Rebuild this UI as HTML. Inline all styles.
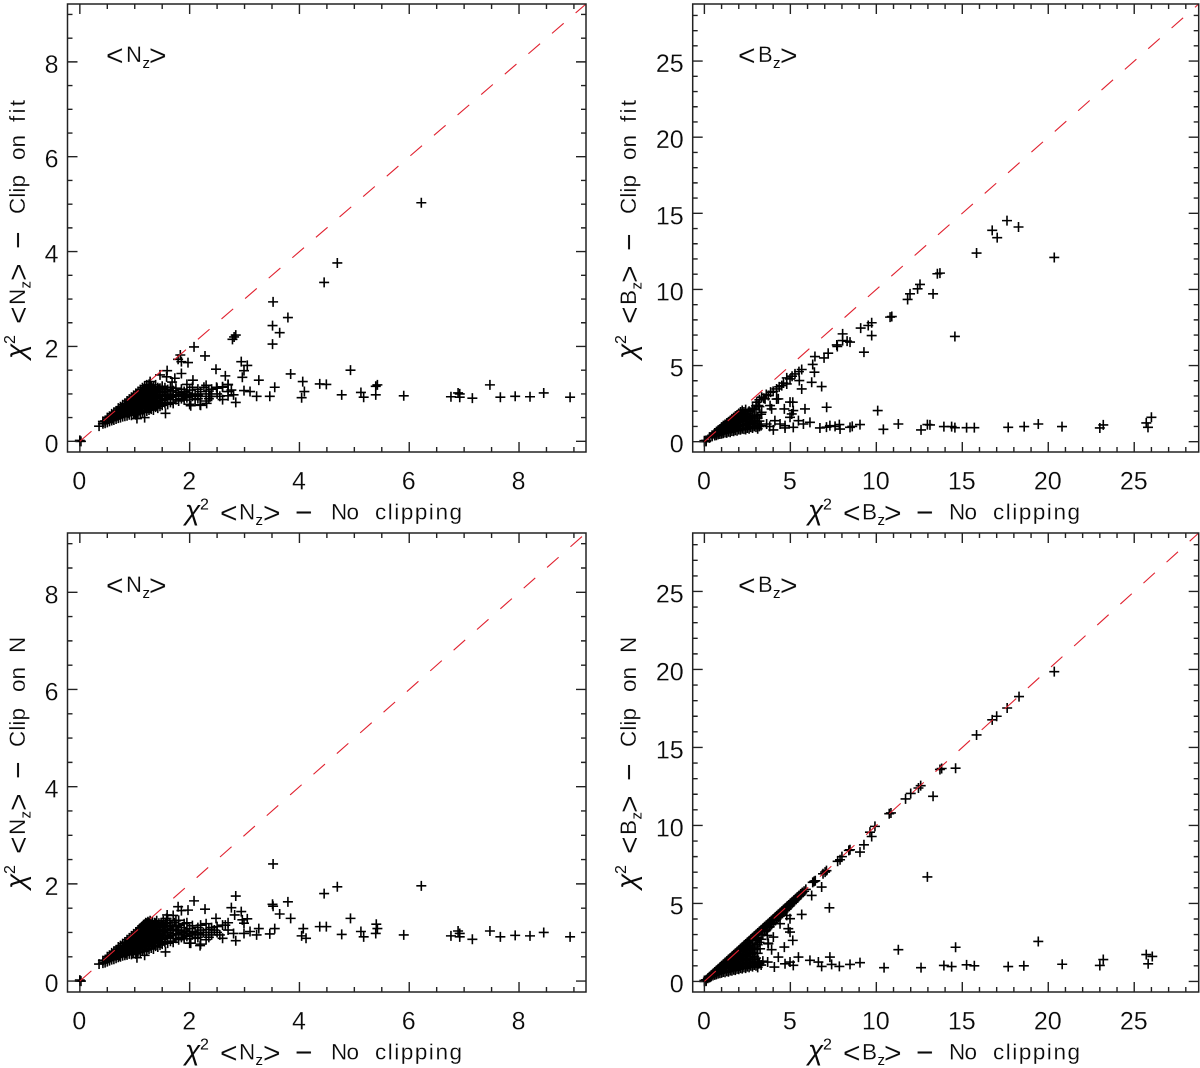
<!DOCTYPE html>
<html lang="en">
<head>
<meta charset="utf-8">
<title>Chi-squared clipping comparison</title>
<style>
html,body{margin:0;padding:0;background:#fff;}
svg{display:block;}
text{font-family:"Liberation Sans",sans-serif;fill:#0a0a0a;stroke:#fff;stroke-width:.2px;}
.tk{font-size:25px;}
.t{font-size:22.5px;}
.br{font-size:30px;}
.chi{font-size:28px;font-style:italic;stroke-width:0;}
.sup{font-size:16px;stroke-width:0;}
.sub{font-size:15px;stroke-width:0;}
.pl{font-size:22px;}
</style>
</head>
<body>
<svg id="chart" xmlns="http://www.w3.org/2000/svg" width="1200" height="1068" viewBox="0 0 1200 1068">
<rect width="1200" height="1068" fill="#fff"/>

<g id="plots"></g>

<!-- panel labels -->
<g transform="translate(108,62)"><text class="br" x="-2" y="3.7">&lt;</text><text class="pl" x="18">N</text><text class="sub" x="34.5" y="6">z</text><text class="br" x="41" y="3.7">&gt;</text></g>
<g transform="translate(740,62)"><text class="br" x="-2" y="3.7">&lt;</text><text class="pl" x="18">B</text><text class="sub" x="33" y="6">z</text><text class="br" x="40" y="3.7">&gt;</text></g>
<g transform="translate(108,592)"><text class="br" x="-2" y="3.7">&lt;</text><text class="pl" x="18">N</text><text class="sub" x="34.5" y="6">z</text><text class="br" x="41" y="3.7">&gt;</text></g>
<g transform="translate(740,592)"><text class="br" x="-2" y="3.7">&lt;</text><text class="pl" x="18">B</text><text class="sub" x="33" y="6">z</text><text class="br" x="40" y="3.7">&gt;</text></g>

<!-- x titles -->
<g transform="translate(185,519.5)"><text class="chi">χ</text><text class="sup" x="15" y="-10">2</text><text class="br" x="35" y="3.7">&lt;</text><text class="t" x="54">N</text><text class="sub" x="70.5" y="5.5">z</text><text class="br" x="78" y="3.7">&gt;</text><text class="br" x="110" y="3">−</text><text class="t" x="146" textLength="28">No</text><text class="t" x="190" textLength="87">clipping</text></g>
<g transform="translate(808,519.5)"><text class="chi">χ</text><text class="sup" x="15" y="-10">2</text><text class="br" x="35" y="3.7">&lt;</text><text class="t" x="54">B</text><text class="sub" x="69.5" y="5.5">z</text><text class="br" x="76" y="3.7">&gt;</text><text class="br" x="108" y="3">−</text><text class="t" x="141" textLength="28">No</text><text class="t" x="185" textLength="87">clipping</text></g>
<g transform="translate(185,1059.5)"><text class="chi">χ</text><text class="sup" x="15" y="-10">2</text><text class="br" x="35" y="3.7">&lt;</text><text class="t" x="54">N</text><text class="sub" x="70.5" y="5.5">z</text><text class="br" x="78" y="3.7">&gt;</text><text class="br" x="110" y="3">−</text><text class="t" x="146" textLength="28">No</text><text class="t" x="190" textLength="87">clipping</text></g>
<g transform="translate(808,1059.5)"><text class="chi">χ</text><text class="sup" x="15" y="-10">2</text><text class="br" x="35" y="3.7">&lt;</text><text class="t" x="54">B</text><text class="sub" x="69.5" y="5.5">z</text><text class="br" x="76" y="3.7">&gt;</text><text class="br" x="108" y="3">−</text><text class="t" x="141" textLength="28">No</text><text class="t" x="185" textLength="87">clipping</text></g>

<!-- y titles -->
<g transform="translate(25,359) rotate(-90)"><text class="chi">χ</text><text class="sup" x="15" y="-10">2</text><text class="br" x="35" y="3.7">&lt;</text><text class="t" x="54">N</text><text class="sub" x="70.5" y="5.5">z</text><text class="br" x="78" y="3.7">&gt;</text><text class="br" x="110" y="3">−</text><text class="t" x="145" textLength="39">Clip</text><text class="t" x="199" textLength="25">on</text><text class="t" x="237" textLength="22">fit</text></g>
<g transform="translate(636,359) rotate(-90)"><text class="chi">χ</text><text class="sup" x="15" y="-10">2</text><text class="br" x="35" y="3.7">&lt;</text><text class="t" x="54">B</text><text class="sub" x="69.5" y="5.5">z</text><text class="br" x="76" y="3.7">&gt;</text><text class="br" x="108" y="3">−</text><text class="t" x="145" textLength="39">Clip</text><text class="t" x="199" textLength="25">on</text><text class="t" x="237" textLength="22">fit</text></g>
<g transform="translate(25,889) rotate(-90)"><text class="chi">χ</text><text class="sup" x="15" y="-10">2</text><text class="br" x="35" y="3.7">&lt;</text><text class="t" x="54">N</text><text class="sub" x="70.5" y="5.5">z</text><text class="br" x="78" y="3.7">&gt;</text><text class="br" x="110" y="3">−</text><text class="t" x="142" textLength="39">Clip</text><text class="t" x="197" textLength="25">on</text><text class="t" x="236">N</text></g>
<g transform="translate(636,889) rotate(-90)"><text class="chi">χ</text><text class="sup" x="15" y="-10">2</text><text class="br" x="35" y="3.7">&lt;</text><text class="t" x="54">B</text><text class="sub" x="69.5" y="5.5">z</text><text class="br" x="76" y="3.7">&gt;</text><text class="br" x="108" y="3">−</text><text class="t" x="142" textLength="39">Clip</text><text class="t" x="197" textLength="25">on</text><text class="t" x="236">N</text></g>
</svg>

<script>
// ---- tick values ----
const nzMajorTicks=[0,2,4,6,8];
const nzMinorStep=0.5;
const bzMajorTicks=[0,5,10,15,20,25];
const bzMinorStep=1;
const nzRange=[-0.225,9.22];
const bzRange=[-0.68,28.75];

// ---- data: dense clusters written as [x,[y,y,...]] ----
const nzCoreCols=[[0,[0,0.02]],[0.02,[0]],[0.42,[0.37,0.42]],[0.46,[0.38,0.43]],[0.5,[0.4,0.46,0.5]],[0.54,[0.42,0.47,0.53]],[0.58,[0.44,0.49,0.54,0.58]],[0.62,[0.45,0.51,0.56,0.61]],[0.66,[0.47,0.52,0.58,0.64]],[0.7,[0.49,0.55,0.6,0.66,0.7]],[0.74,[0.5,0.56,0.62,0.68,0.73]],[0.78,[0.52,0.58,0.64,0.7,0.77]],[0.82,[0.53,0.6,0.66,0.72,0.8]],[0.86,[0.54,0.61,0.68,0.74,0.8,0.85]],[0.9,[0.56,0.63,0.69,0.76,0.82,0.89]],[0.94,[0.55,0.62,0.7,0.77,0.84,0.93]],[0.98,[0.57,0.65,0.72,0.79,0.86,0.92,0.97]],[1.02,[0.56,0.63,0.7,0.78,0.85,0.93,1.01]],[1.06,[0.6,0.67,0.74,0.81,0.88,0.95,1.05]],[1.1,[0.58,0.65,0.72,0.8,0.87,0.94,1.02,1.09]],[1.14,[0.62,0.69,0.76,0.83,0.9,0.97,1.05,1.13]],[1.18,[0.61,0.68,0.75,0.82,0.89,0.96,1.04,1.11,1.17]],[1.22,[0.64,0.71,0.78,0.85,0.92,0.99,1.06,1.14,1.19]],[1.26,[0.66,0.73,0.8,0.87,0.94,1.01,1.08,1.16,1.2]],[1.3,[0.68,0.75,0.82,0.89,0.96,1.03,1.1,1.17]],[1.34,[0.66,0.74,0.81,0.88,0.95,1.02,1.09,1.15]],[1.38,[0.72,0.79,0.86,0.93,1,1.07,1.14,1.19]],[1.42,[0.7,0.78,0.85,0.92,0.99,1.06,1.13]],[1.46,[0.74,0.82,0.9,0.98,1.05,1.12]],[1.5,[0.76,0.86,0.94,1.03,1.1,1.16]],[1.55,[0.8,0.88,0.97,1.06,1.13]],[1.6,[0.78,0.9,1,1.09]],[1.65,[0.82,0.93,1.04,1.14]],[1.7,[0.8,0.95,1.07]],[1.75,[0.88,0.98,1.12]],[1.8,[0.85,0.97,1.03]],[1.85,[0.9,1,1.1]],[1.9,[0.87,0.95,1.05]],[1.95,[0.92,1.02,1.2]],[2,[0.78,0.98,1.08]],[2.05,[0.95,1.14]],[2.1,[0.88,1]],[2.15,[0.9,1.1,0.97]],[2.2,[0.76,0.95,1.05]],[2.3,[0.85,1,1.18]],[2.35,[0.9,1.06]],[2.4,[0.95,1.1]],[2.5,[1,1.12]],[2.55,[0.95]],[2.6,[0.88,1.15]],[2.7,[1.05,1.2]],[2.8,[0.98]]];

const nzFitExtra=[[0.6,0.48],[0.64,0.54],[0.68,0.6],[0.72,0.58],[0.76,0.65],[0.8,0.61],[0.84,0.67],[0.84,0.76],[0.88,0.6],[0.88,0.72],[0.92,0.66],[0.92,0.8],[0.96,0.73],[0.96,0.88],[1,0.6],[1,0.75],[1,0.9],[1.04,0.66],[1.04,0.83],[1.04,0.98],[1.08,0.76],[1.08,0.91],[1.12,0.69],[1.12,0.84],[1.12,1],[1.16,0.79],[1.16,0.93],[1.16,1.08],[1.2,0.72],[1.2,0.87],[1.2,1.02],[1.24,0.8],[1.24,0.96],[1.24,1.1],[1.28,0.7],[1.28,0.9],[1.28,1.05],[1.32,0.78],[1.32,0.98],[1.32,1.12],[1.36,0.84],[1.36,1.04],[1.4,0.76],[1.4,0.95]];

const nzFitOutliers=[[0.35,0.32],[1.04,0.48],[1.18,0.5],[1.56,0.59],[1.28,1.26],[1.46,1.4],[1.59,1.49],[1.58,1.36],[1.73,1.33],[1.85,1.43],[2.06,1.29],[1.68,1.25],[3.52,2.94],[3.79,2.61],[3.51,2.44],[3.64,2.29],[3.51,2.05],[2.84,2.24],[2.78,2.15],[2.81,2.2],[2.08,1.99],[2.28,1.8],[1.83,1.82],[1.79,1.73],[1.85,1.68],[1.97,1.66],[2.94,1.68],[3.05,1.6],[2.48,1.52],[2.99,1.49],[2.65,1.38],[2.96,1.35],[3.26,1.29],[3.84,1.42],[4.06,1.26],[3.55,1.14],[4.37,1.21],[4.49,1.2],[4.09,1.05],[4.04,0.92],[3.46,0.95],[3.22,0.95],[3.1,1.05],[2.99,1.07],[2.84,0.82],[2.7,0.96],[2.76,1.08],[2.7,1.19],[2.6,1.14],[2.49,1.14],[2.37,0.95],[2.31,0.8],[2.19,0.77],[2.02,0.75],[2.26,1.14],[4.45,3.35],[4.69,3.76],[6.22,5.03],[4.93,1.5],[5.42,1.19],[5.39,1.16],[4.77,0.98],[5.12,1.03],[5.17,0.93],[5.39,0.98],[5.9,0.96],[6.76,0.94],[6.89,1.02],[6.92,1],[6.92,0.93],[7.15,0.91],[7.47,1.19],[7.66,0.93],[7.93,0.95],[8.2,0.94],[8.45,1.02],[8.93,0.93]];

const nzClipExtra=[[0.72,0.52],[0.76,0.6],[0.8,0.67],[0.84,0.57],[0.88,0.65],[0.92,0.72],[0.96,0.6],[0.96,0.8],[1,0.68],[1,0.9],[1.04,0.76],[1.04,0.98],[1.08,0.7],[1.08,0.85],[1.12,0.78],[1.12,0.92],[1.12,1.1],[1.16,0.86],[1.16,1],[1.16,1.16],[1.2,0.73],[1.2,0.94],[1.2,1.2],[1.24,0.83],[1.24,1.1],[1.24,1.22],[1.28,0.98],[1.28,1.24],[1.32,0.79],[1.32,1.13],[1.32,1.22],[1.36,0.9],[1.36,1.2],[1.4,1.04],[1.4,1.24],[1.44,0.96],[1.44,1.19],[1.48,1.2],[1.52,1.02],[1.52,1.24],[1.56,1.18],[1.6,1.25],[1.64,1.2],[1.68,1.13],[1.72,1.2],[1.76,1.05],[1.8,1.15],[1.8,1.25],[1.9,1.18],[2.05,1.02],[2.2,1.15],[2.25,1],[2.4,1],[2.45,1.05],[2.65,1.15]];

const nzClipOutliers=[[0.35,0.35],[1.04,0.48],[1.18,0.53],[1.56,0.6],[3.52,2.41],[4.69,1.94],[4.45,1.8],[2.08,1.65],[1.79,1.53],[1.85,1.45],[1.97,1.46],[2.28,1.48],[2.84,1.75],[2.76,1.51],[2.82,1.36],[2.94,1.43],[3.51,1.58],[3.52,1.54],[3.79,1.63],[3.64,1.38],[3.84,1.29],[2.48,1.29],[3.05,1.28],[2.96,1.26],[2.99,1.19],[3.26,1.08],[3.55,1.08],[4.07,1.08],[4.37,1.12],[4.49,1.12],[4.04,0.93],[4.12,0.88],[3.46,0.97],[3.22,0.95],[3.1,1.02],[2.99,0.98],[2.84,0.83],[2.19,0.73],[2.02,0.78],[1.59,1.36],[1.58,1.29],[1.75,1.24],[1.7,1.35],[6.22,1.96],[4.93,1.29],[5.4,1.17],[5.42,1.08],[5.39,0.98],[4.77,0.96],[5.12,1.02],[5.17,0.91],[5.9,0.95],[6.76,0.93],[6.89,1.03],[6.92,0.98],[6.92,0.91],[7.15,0.86],[7.47,1.03],[7.66,0.91],[7.93,0.94],[8.2,0.93],[8.45,1],[8.93,0.91]];

const bzFitCols=[[0.1,[0.08,0.02]],[0,[0,0.06]],[0.3,[0.25,0.3]],[0.45,[0.35,0.42]],[0.6,[0.4,0.5,0.57]],[0.7,[0.42,0.55,0.66]],[0.8,[0.48,0.6,0.75]],[0.9,[0.5,0.65,0.82]],[1,[0.52,0.68,0.85,0.95]],[1.1,[0.55,0.75,0.9,1.05]],[1.2,[0.6,0.78,0.95,1.13]],[1.3,[0.58,0.8,1,1.22]],[1.4,[0.65,0.85,1.05,1.3]],[1.5,[0.62,0.9,1.12,1.38]],[1.6,[0.7,0.88,1.1,1.3,1.5]],[1.7,[0.68,0.92,1.15,1.38,1.58]],[1.8,[0.75,0.95,1.2,1.42,1.68]],[1.9,[0.72,1,1.25,1.5,1.75]],[2,[0.8,1,1.3,1.55,1.85]],[2.1,[0.78,1.05,1.32,1.6,1.95]],[2.2,[0.85,1.1,1.4,1.7,2.05]],[2.3,[0.82,1.05,1.35,1.65,1.95]],[2.4,[0.8,1.1,1.45,1.8,2.1]],[2.5,[0.9,1.2,1.5,1.85]],[2.6,[0.85,1.15,1.6,2]],[2.7,[0.95,1.25,1.75]],[2.8,[0.9,1.3,1.65,2.2]],[2.9,[1,1.4,2.1]],[3,[0.95,1.2,1.7,2.35]],[3.1,[0.85,1.1,1.55]],[3.2,[1,1.35,2.3]],[3.3,[1.05,1.8]]];

const bzFitOutliers=[[3.04,2.59],[3.33,2.92],[3.2,2.75],[3.45,2.85],[3.6,3.1],[3.72,3.03],[3.85,3.25],[4,3.3],[4.2,3.46],[4.35,3.6],[4.5,3.68],[4.6,3.85],[4.79,3.79],[4.2,2.8],[3.82,2.37],[3.53,2.81],[3.14,2.37],[3.33,1.93],[3.62,1.16],[3.8,1.0],[4.1,1.38],[4.01,0.77],[4.4,1.16],[4.69,1.05],[4.69,0.9],[5.17,0.94],[5.17,2.04],[4.98,1.6],[5.14,2.59],[4.98,2.6],[4.65,2.15],[3.91,2.15],[4.3,2.81],[5.08,1.82],[5.47,1.38],[5.76,1.16],[6.14,1.27],[6.72,0.9],[7.3,1.05],[7.1,0.95],[7.6,1.0],[7.85,1.12],[7.89,0.83],[8.47,0.94],[8.6,1.0],[9.05,1.12],[10.08,2.04],[10.41,0.81],[11.28,1.16],[12.6,0.77],[12.97,1.12],[5.85,2.15],[7.11,2.26],[5.66,3.46],[6.82,3.62],[6.24,3.9],[6.4,4.56],[5.52,4.01],[5.27,4.45],[5.66,4.74],[5.5,4.6],[5.1,4.3],[4.98,4.12],[4.79,4.19],[6.3,5.07],[6.43,5.59],[6.96,5.5],[7.2,5.81],[7.73,6.25],[7.7,6.35],[8.04,7.08],[8.04,6.64],[8.47,6.54],[8.3,6.6],[9.28,5.88],[9.73,6.97],[9.09,7.46],[9.53,7.63],[9.73,7.81],[10.8,8.18],[10.9,8.22],[11.82,9.34],[11.96,9.71],[12.4,10.04],[12.54,10.33],[13.3,9.71],[13.55,11.03],[13.7,11.07],[15.83,12.39],[16.74,13.88],[17.03,13.4],[17.6,14.52],[18.27,14.1],[20.35,12.1],[14.57,6.91],[13.12,1.1],[13.93,0.99],[14.38,0.99],[14.57,0.92],[15.25,0.92],[15.7,0.92],[17.67,0.94],[18.6,0.99],[19.42,1.16],[20.8,0.99],[23,0.9],[23.2,1.1],[25.7,1.23],[25.8,0.94],[26,1.6]];

const bzClipCols=[[0,[0,0.06]],[0.1,[0.1,0.02]],[0.2,[0.2]],[0.3,[0.25,0.3]],[0.4,[0.32,0.4]],[0.5,[0.38,0.5]],[0.6,[0.42,0.52,0.6]],[0.7,[0.45,0.58,0.7]],[0.8,[0.5,0.65,0.8]],[0.9,[0.52,0.7,0.9]],[1,[0.55,0.78,1]],[1.1,[0.6,0.85,1.1,0.98]],[1.2,[0.58,0.9,1.05,1.2]],[1.3,[0.65,0.95,1.15,1.3]],[1.4,[0.62,0.85,1.1,1.25,1.4]],[1.5,[0.7,1,1.2,1.35,1.5]],[1.6,[0.68,0.9,1.15,1.4,1.6]],[1.7,[0.75,1,1.25,1.5,1.7]],[1.8,[0.72,0.95,1.2,1.45,1.65,1.8]],[1.9,[0.8,1.05,1.3,1.55,1.9]],[2,[0.78,1,1.25,1.5,1.75,2]],[2.1,[0.85,1.1,1.4,1.7,1.95,2.1]],[2.2,[0.82,1.05,1.3,1.6,1.9,2.2]],[2.3,[0.9,1.15,1.45,1.75,2.05,2.3]],[2.4,[0.85,1.1,1.35,1.65,2,2.4]],[2.5,[0.95,1.2,1.5,1.85,2.2,2.5]],[2.6,[0.9,1.15,1.6,1.95,2.3,2.6]],[2.7,[1,1.3,1.75,2.1,2.7]],[2.8,[0.95,1.4,1.85,2.4,2.8]],[2.9,[1.05,1.25,1.6,2.2,2.9]],[3,[1,1.5,2.05,2.6,3]],[3.1,[0.9,1.2,1.8,2.35,2.8,3.1]],[3.2,[1.15,2.5,3.2]],[3.3,[1.05,2.7,3.3]],[3.4,[1.3,3,3.4]],[3.5,[3.2,3.5]],[3.6,[3.3,3.6]],[3.7,[2.45,3.45,3.7]],[3.8,[3.5,3.8]],[3.9,[3.65,3.9]],[4,[3.75,4]],[4.1,[3.9,4.1]],[4.2,[4,4.2]],[4.3,[4.1,4.3]],[4.4,[4.2,4.4]],[4.5,[4.35,4.5]],[4.6,[4.45,4.6]],[4.7,[4.55,4.7]],[4.8,[4.65,4.8]],[4.9,[4.8,4.9]],[5,[4.9,5]],[5.1,[5,5.1]],[5.2,[5.1,5.2]],[5.3,[5.25,5.3]],[5.4,[5.35,5.4]],[5.5,[5.45,5.5]],[5.6,[5.55,5.6]],[5.7,[5.7]],[5.8,[5.78]],[5.9,[5.9]]];

const bzClipOutliers=[[4.98,4.02],[4.88,3.38],[4.98,3.16],[5.14,2.63],[4.65,2.2],[3.91,2.03],[4.01,2.84],[3.66,2.95],[4.4,3.7],[4.79,4.23],[3.72,2.41],[3.24,2.09],[5.66,4.29],[6.24,5.51],[6.82,6.05],[6.38,6.41],[6.3,6.35],[6.45,6.45],[6.9,6.9],[7.02,7.01],[7.1,7.1],[7.27,4.72],[7.75,7.7],[7.89,7.8],[8.0,8.0],[8.4,8.4],[8.47,8.44],[9.05,8.29],[9.28,8.76],[9.63,9.57],[9.73,9.29],[9.92,9.94],[10.75,10.75],[10.85,10.8],[11.7,11.7],[12,12.05],[12.45,12.4],[12.58,12.55],[13.3,11.87],[13.7,13.59],[13.8,13.65],[14.61,13.67],[15.83,15.8],[16.74,16.77],[17,17],[17.61,17.53],[18.3,18.26],[20.35,19.86],[12.97,6.7],[14.61,2.19],[11.28,2.03],[3.14,1.13],[3.68,1.24],[4.07,0.92],[4.3,1.56],[4.69,1.13],[4.98,1.24],[5.17,1.03],[5.47,1.56],[6.14,1.35],[6.63,1.24],[6.82,0.96],[7.3,1.56],[7.4,1.09],[7.85,0.96],[8.47,1.09],[9.05,1.2],[10.45,0.88],[12.6,0.88],[13.93,1.02],[14.38,0.95],[15.25,1.06],[15.7,1],[17.67,0.95],[18.58,1],[19.42,2.56],[20.81,1.1],[23,1.02],[23.2,1.4],[25.7,1.72],[25.81,1.13],[26.05,1.6]];

// ---- drawing ----
const NS='http://www.w3.org/2000/svg';
const root=document.getElementById('plots');

function flatten(cols){
  const out=[];
  cols.forEach(function(c){c[1].forEach(function(y){out.push([c[0],y]);});});
  return out;
}

function linearScale(d0,d1,r0,r1){
  return function(v){return r0+(v-d0)*(r1-r0)/(d1-d0);};
}

function stepValues(lo,hi,step){
  const vals=[];
  for(let i=Math.ceil(lo/step);i*step<=hi;i++){vals.push(i*step);}
  return vals;
}

function drawPanel(name,box,range,majors,minorStep,points){
  const g=document.createElementNS(NS,'g');
  
  
  root.appendChild(g);
  const sx=linearScale(range[0],range[1],box.l,box.r);
  const sy=linearScale(range[0],range[1],box.b,box.t);

  // points
  let d;
  points.forEach(function(p){
    const m=document.createElementNS(NS,'path');
    const px=sx(p[0]),py=sy(p[1]);
    m.setAttribute('d','M'+(px-5)+' '+py+'H'+(px+5)+'M'+px+' '+(py-5)+'V'+(py+5));
    m.setAttribute('fill','none');
    m.setAttribute('stroke','#000');
    m.setAttribute('stroke-width','1.6');
    
    
    g.appendChild(m);
  });

  // identity line
  const line=document.createElementNS(NS,'line');
  line.setAttribute('x1',sx(0));
  line.setAttribute('y1',sy(0));
  line.setAttribute('x2',sx(range[1]));
  line.setAttribute('y2',sy(range[1]));
  line.setAttribute('stroke','#e0202e');
  line.setAttribute('stroke-width','1.1');
  line.setAttribute('stroke-dasharray','15.4 15.8');
  
  
  g.appendChild(line);

  // frame
  const frame=document.createElementNS(NS,'rect');
  frame.setAttribute('x',box.l);
  frame.setAttribute('y',box.t);
  frame.setAttribute('width',box.r-box.l);
  frame.setAttribute('height',box.b-box.t);
  frame.setAttribute('fill','none');
  frame.setAttribute('stroke','#222');
  frame.setAttribute('stroke-width','1.5');
  
  
  g.appendChild(frame);

  // ticks
  d='';
  stepValues(0,range[1],minorStep).forEach(function(v){
    const isMajor=majors.indexOf(v)>=0;
    const len=isMajor?10:5;
    const x=sx(v),y=sy(v);
    d+='M'+x+' '+box.b+'V'+(box.b-len);
    d+='M'+x+' '+box.t+'V'+(box.t+len);
    d+='M'+box.l+' '+y+'H'+(box.l+len);
    d+='M'+box.r+' '+y+'H'+(box.r-len);
  });
  const ticks=document.createElementNS(NS,'path');
  ticks.setAttribute('d',d);
  ticks.setAttribute('fill','none');
  ticks.setAttribute('stroke','#222');
  ticks.setAttribute('stroke-width','1.4');
  
  
  g.appendChild(ticks);

  // tick labels
  majors.forEach(function(v){
    const tx=document.createElementNS(NS,'text');
    tx.setAttribute('class','tk');
    tx.setAttribute('x',sx(v)-0.5);
    tx.setAttribute('y',box.b+37.5);
    tx.setAttribute('text-anchor','middle');
    
    
    tx.textContent=String(v);
    g.appendChild(tx);
    const ty=document.createElementNS(NS,'text');
    ty.setAttribute('class','tk');
    ty.setAttribute('x',box.l-9);
    ty.setAttribute('y',sy(v)+11);
    ty.setAttribute('text-anchor','end');
    
    
    ty.textContent=String(v);
    g.appendChild(ty);
  });
}

drawPanel('panel-nz-clip-on-fit',{l:67.5,r:586,t:4,b:452},nzRange,nzMajorTicks,nzMinorStep,flatten(nzCoreCols).concat(nzFitExtra,nzFitOutliers));
drawPanel('panel-bz-clip-on-fit',{l:692.7,r:1198.7,t:4,b:452},bzRange,bzMajorTicks,bzMinorStep,flatten(bzFitCols).concat(bzFitOutliers));
drawPanel('panel-nz-clip-on-n',{l:67.5,r:586,t:533,b:992},nzRange,nzMajorTicks,nzMinorStep,flatten(nzCoreCols).concat(nzClipExtra,nzClipOutliers));
drawPanel('panel-bz-clip-on-n',{l:692.7,r:1198.7,t:533,b:992},bzRange,bzMajorTicks,bzMinorStep,flatten(bzClipCols).concat(bzClipOutliers));
</script>
</body>
</html>
